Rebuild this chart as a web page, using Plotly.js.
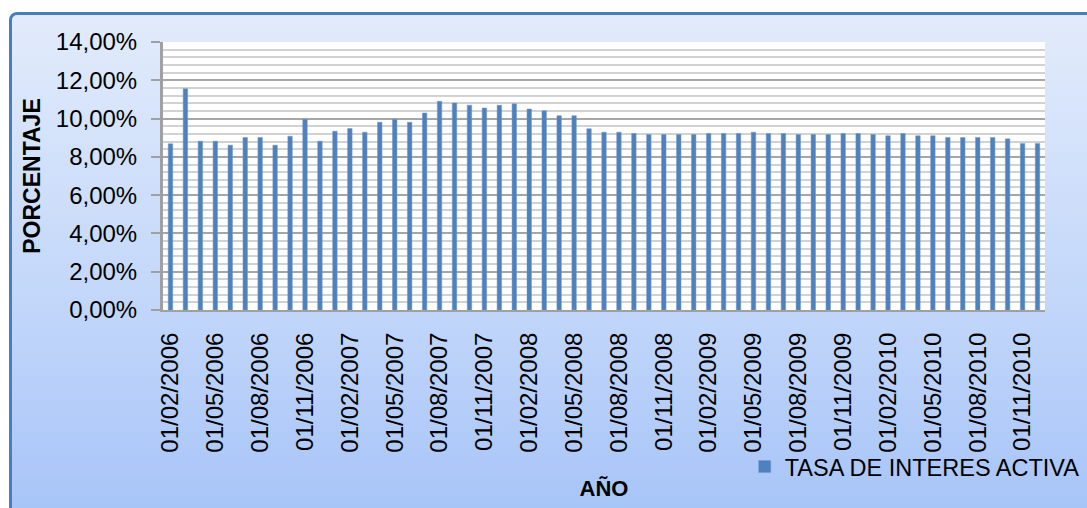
<!DOCTYPE html>
<html>
<head>
<meta charset="utf-8">
<script src="https://cdn.plot.ly/plotly-3.0.1.min.js"></script>
<style>
  html, body { margin: 0; padding: 0; background: #ffffff; }
  #wrap { position: relative; width: 1087px; height: 508px; overflow: hidden; }
  #frame {
    position: absolute; left: 9px; top: 12px; width: 1100px; height: 520px;
    border: 3px solid #4a7ebb; border-radius: 8px; box-sizing: border-box;
    background: linear-gradient(to bottom, #e2ebfb 0%, #c3d7fa 55%, #a5c3f8 100%);
  }
  #chart { position: absolute; left: 0; top: 0; width: 1087px; height: 508px; }
</style>
</head>
<body>
<div id="wrap">
  <div id="frame"></div>
  <div id="chart"></div>
</div>
<script>
// Monthly active interest rate (%), February 2006 - December 2010
const fechas = [
  "01/02/2006","01/03/2006","01/04/2006","01/05/2006","01/06/2006","01/07/2006",
  "01/08/2006","01/09/2006","01/10/2006","01/11/2006","01/12/2006","01/01/2007",
  "01/02/2007","01/03/2007","01/04/2007","01/05/2007","01/06/2007","01/07/2007",
  "01/08/2007","01/09/2007","01/10/2007","01/11/2007","01/12/2007","01/01/2008",
  "01/02/2008","01/03/2008","01/04/2008","01/05/2008","01/06/2008","01/07/2008",
  "01/08/2008","01/09/2008","01/10/2008","01/11/2008","01/12/2008","01/01/2009",
  "01/02/2009","01/03/2009","01/04/2009","01/05/2009","01/06/2009","01/07/2009",
  "01/08/2009","01/09/2009","01/10/2009","01/11/2009","01/12/2009","01/01/2010",
  "01/02/2010","01/03/2010","01/04/2010","01/05/2010","01/06/2010","01/07/2010",
  "01/08/2010","01/09/2010","01/10/2010","01/11/2010","01/12/2010"
];

const tasaActiva = [
  8.68, 11.56, 8.82, 8.82, 8.61, 9.01, 9.01, 8.61, 9.08, 9.97, 8.82, 9.34,
  9.48, 9.29, 9.81, 9.97, 9.81, 10.29, 10.90, 10.81, 10.70, 10.55, 10.69, 10.77,
  10.50, 10.41, 10.15, 10.15, 9.47, 9.29, 9.29, 9.22, 9.17, 9.17, 9.17, 9.17,
  9.22, 9.22, 9.22, 9.29, 9.22, 9.22, 9.17, 9.17, 9.17, 9.22, 9.22, 9.17,
  9.10, 9.22, 9.10, 9.10, 9.01, 9.01, 9.01, 9.01, 8.94, 8.70, 8.70
];

const nombreSerie = "TASA DE INTERES ACTIVA";

// quarterly date labels along the category axis
const etiquetas = fechas.filter((f, i) => i % 3 === 0);

const FONT = "Liberation Sans, Arial, sans-serif";

const trace = {
  type: "bar",
  x: fechas,
  y: tasaActiva,
  name: nombreSerie,
  width: 0.3,
  marker: { color: "#4f81bd", line: { color: "#6f97c9", width: 0.5 } },
  showlegend: true
};

const layout = {
  width: 1087,
  height: 508,
  margin: { l: 163, r: 42, t: 42, b: 198, autoexpand: false },
  paper_bgcolor: "rgba(0,0,0,0)",
  plot_bgcolor: "#ffffff",
  separators: ",.",
  font: { family: FONT, size: 24, color: "#000000" },
  showlegend: true,
  legend: {
    orientation: "h",
    x: 0.6595, xanchor: "left",
    y: -0.585, yanchor: "middle",
    bgcolor: "rgba(0,0,0,0)",
    font: { family: FONT, size: 23.5, color: "#000000" },
    itemwidth: 30
  },
  bargap: 0.7,
  xaxis: {
    type: "category",
    range: [-0.5, fechas.length - 0.5],
    tickmode: "array",
    tickvals: etiquetas,
    ticktext: etiquetas,
    tickangle: -90,
    ticks: "",
    ticklabelstandoff: 11,
    showgrid: false,
    showline: true,
    linecolor: "#a0a0a0",
    linewidth: 2,
    automargin: false,
    tickfont: { family: FONT, size: 24, color: "#000000" },
    title: {
      text: "<b>AÑO</b>",
      font: { family: FONT, size: 22, color: "#000000" },
      standoff: 29
    }
  },
  yaxis: {
    range: [0, 14],
    dtick: 2,
    tick0: 0,
    tickformat: ".2f",
    ticksuffix: "%",
    ticks: "outside",
    ticklen: 9,
    tickwidth: 2,
    tickcolor: "#a0a0a0",
    ticklabelstandoff: 9,
    showline: true,
    linecolor: "#a0a0a0",
    linewidth: 3,
    showgrid: true,
    gridcolor: "#a6a6a6",
    gridwidth: 2,
    zeroline: false,
    automargin: false,
    minor: { dtick: 0.4, showgrid: true, gridcolor: "#d2d2d2", gridwidth: 2, ticks: "" },
    tickfont: { family: FONT, size: 24, color: "#000000" },
    title: {
      text: "<b>PORCENTAJE</b>",
      font: { family: FONT, size: 23, color: "#000000" },
      standoff: 9
    }
  }
};

Plotly.newPlot("chart", [trace], layout, { displayModeBar: false, staticPlot: true });
</script>
</body>
</html>
